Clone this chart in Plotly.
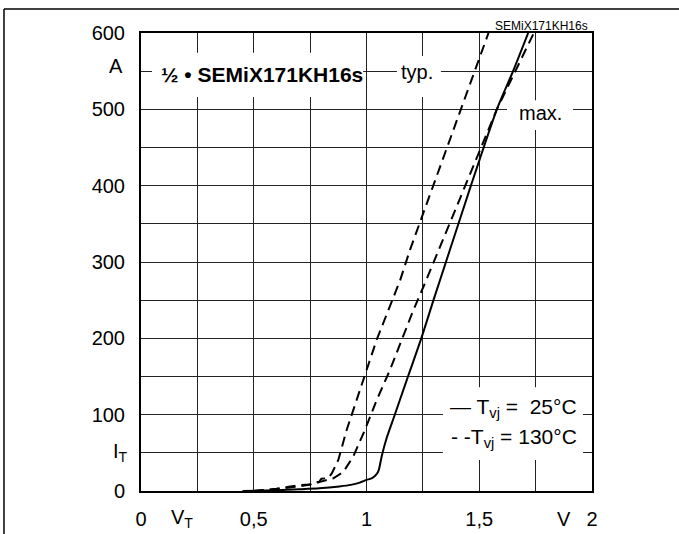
import plotly.graph_objects as go

# ---- data ----
v_solid_25 = [0.45, 0.60, 0.70, 0.79, 0.88, 0.93, 0.97, 1.00, 1.025, 1.045, 1.055, 1.067, 1.09,
              1.122, 1.178, 1.243, 1.297, 1.370, 1.463, 1.578, 1.65, 1.717]
i_solid_25 = [0, 1, 2.2, 3.5, 6, 8, 11, 14.5, 17, 22, 28, 45, 70,
              97, 145, 200, 250, 316, 400, 500, 550, 600]

v_dash_typ = [0.50, 0.60, 0.705, 0.72, 0.75, 0.76, 0.79, 0.80, 0.83, 0.846, 0.875, 0.912, 0.956,
              1.001, 1.045, 1.097, 1.149, 1.193, 1.293, 1.417, 1.541]
i_dash_typ = [0, 3, 7.9, 8, 8.5, 11, 12, 16, 17, 23, 40.6, 80, 119,
              158.5, 198, 237, 276, 316, 398, 500, 600]

v_dash_max = [0.50, 0.60, 0.70, 0.76, 0.794, 0.853, 0.897, 0.941, 0.993, 1.045, 1.104, 1.156,
              1.208, 1.259, 1.311, 1.438, 1.578, 1.66, 1.742]
i_dash_max = [0, 2.5, 6, 9, 12, 16.6, 25, 45, 80, 119, 158.5, 198,
              237, 272, 309, 400, 500, 550, 600]

x_tickvals = [0, 0.5, 1.0, 1.5, 2.0]
x_ticktext = ["0", "0,5", "1", "1,5", "2"]
y_tickvals = [0, 100, 200, 300, 400, 500, 600]
y_ticktext = ["0", "100", "200", "300", "400", "500", "600"]

FONT = "Liberation Sans, Arial, Helvetica, sans-serif"

fig = go.Figure()
fig.add_trace(go.Scatter(x=v_solid_25, y=i_solid_25, mode="lines",
                         line=dict(color="black", width=2, shape="spline", smoothing=0.6),
                         showlegend=False, hoverinfo="skip"))
fig.add_trace(go.Scatter(x=v_dash_typ, y=i_dash_typ, mode="lines",
                         line=dict(color="black", width=2, dash="10px,6px"),
                         showlegend=False, hoverinfo="skip"))
fig.add_trace(go.Scatter(x=v_dash_max, y=i_dash_max, mode="lines",
                         line=dict(color="black", width=2, dash="10px,6px"),
                         showlegend=False, hoverinfo="skip"))

axis_common = dict(showgrid=True, gridcolor="#222", gridwidth=1, zeroline=False,
                   showline=True, linecolor="black", linewidth=2, mirror=True,
                   ticks="", automargin=False,
                   tickfont=dict(family=FONT, size=20, color="black"))
fig.update_xaxes(range=[0, 2], tickmode="array", tickvals=x_tickvals, ticktext=x_ticktext,
                 ticklabelstandoff=9,
                 minor=dict(dtick=0.25, tick0=0, showgrid=True, gridcolor="#222", gridwidth=1, ticks=""),
                 **axis_common)
fig.update_yaxes(range=[0, 600], tickmode="array", tickvals=y_tickvals, ticktext=y_ticktext,
                 ticklabelstandoff=10,
                 minor=dict(dtick=50, tick0=0, showgrid=True, gridcolor="#222", gridwidth=1, ticks=""),
                 **axis_common)

# white gaps in the grid behind the labels
boxes = [
    (0.049, 0.985, 516, 574),
    (1.135, 1.330, 516, 570),
    (1.623, 1.916, 473, 512),
    (1.339, 1.960, 40.6, 136),
]
for x0, x1, y0, y1 in boxes:
    fig.add_shape(type="rect", xref="x", yref="y", x0=x0, x1=x1, y0=y0, y1=y1,
                  fillcolor="white", line=dict(width=0), layer="between")

# outer frame (top and left edges)
fig.add_shape(type="line", xref="paper", yref="paper", x0=-0.3038, x1=1.25, y0=1.0524, y1=1.0524,
              line=dict(color="black", width=1.5))
fig.add_shape(type="line", xref="paper", yref="paper", x0=-0.3038, x1=-0.3038, y0=1.0524, y1=-0.12,
              line=dict(color="black", width=1.5))

def ann(text, x, y, xref="x", yref="y", size=20, xanchor="center", yanchor="middle", bold=False):
    fig.add_annotation(text=text, x=x, y=y, xref=xref, yref=yref, showarrow=False,
                       xanchor=xanchor, yanchor=yanchor,
                       font=dict(family=FONT, size=size, color="black",
                                 weight="bold" if bold else "normal"))

ann("A", -0.0554, 557, xref="paper")
ann("I<sub>T</sub>", -0.046, 51, xref="paper")
ann("V<sub>T</sub>", 0.18, -0.0611, yref="paper")
ann("V", 1.875, -0.0611, yref="paper")
ann("SEMiX171KH16s", 0.9956, 1.0142, xref="paper", yref="paper", size=12, xanchor="right")
ann("½ • SEMiX171KH16s", 0.08, 545, size=21, xanchor="left", bold=True)
ann("typ.", 1.226, 549, size=20)
ann("max.", 1.772, 495, size=20)
ann("— T<sub>vj</sub> =  25°C", 1.942, 108.7, size=21, xanchor="right")
ann("- -T<sub>vj</sub> = 130°C", 1.942, 69.4, size=21, xanchor="right")

fig.update_layout(width=679, height=534, margin=dict(l=141, r=87, t=33, b=43),
                  paper_bgcolor="white", plot_bgcolor="white",
                  font=dict(family=FONT, color="black"), showlegend=False)

fig.write_html("out.html", config={"displayModeBar": False},
               post_script="document.body.style.margin='0px';")
